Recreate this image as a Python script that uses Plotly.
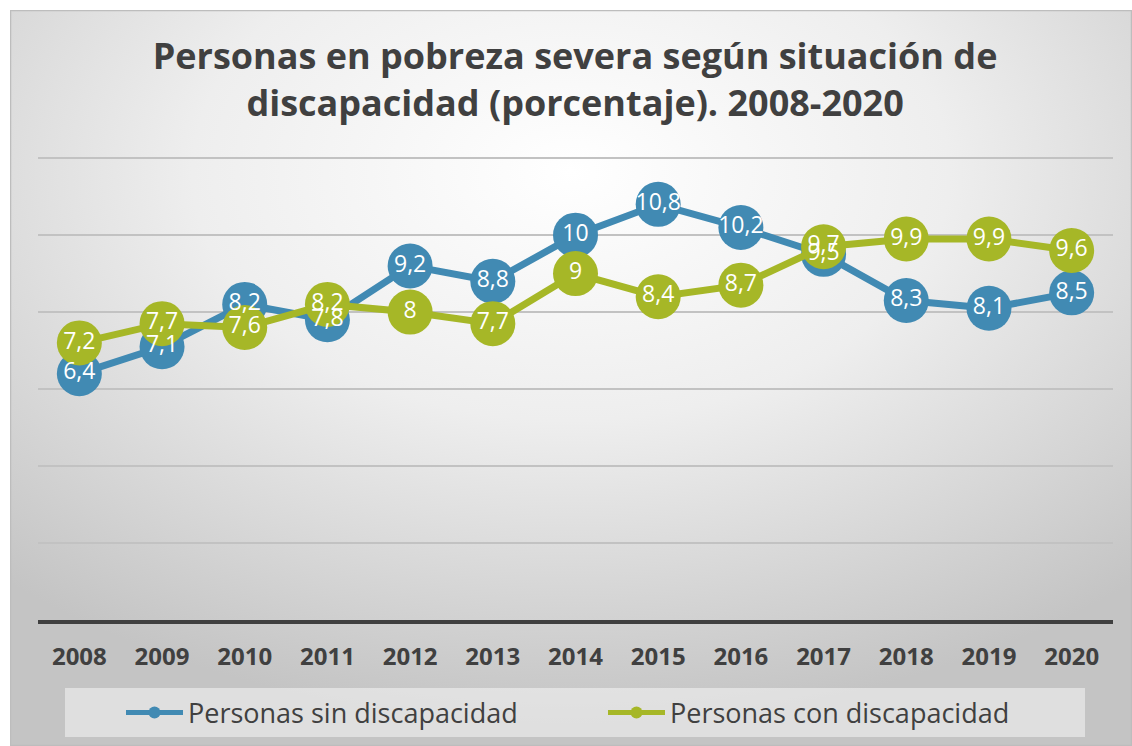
import base64
import plotly.graph_objects as go

years = ["2008", "2009", "2010", "2011", "2012", "2013", "2014",
         "2015", "2016", "2017", "2018", "2019", "2020"]
sin_disc = [6.4, 7.1, 8.2, 7.8, 9.2, 8.8, 10, 10.8, 10.2, 9.5, 8.3, 8.1, 8.5]
con_disc = [7.2, 7.7, 7.6, 8.2, 8, 7.7, 9, 8.4, 8.7, 9.7, 9.9, 9.9, 9.6]
names = ["Personas sin discapacidad", "Personas con discapacidad"]
colors = ["#418AB3", "#A6B727"]

def fmt(v):
    return ("%g" % v).replace(".", ",")

# figure geometry (pixels)
W, H = 1132, 746
ML, MR, MT, MB = 38, 19, 157, 126
PW, PH = W - ML - MR, H - MT - MB

def px_x(p):
    return (p - ML) / PW

def px_y(p):
    return (H - MB - p) / PH

svg = ('<svg xmlns="http://www.w3.org/2000/svg" width="1122" height="736" preserveAspectRatio="none">'
       '<defs><radialGradient id="g" cx="50%" cy="22%" r="75%" fx="50%" fy="22%">'
       '<stop offset="0%" stop-color="#ffffff"/>'
       '<stop offset="45%" stop-color="#eeeeee"/>'
       '<stop offset="100%" stop-color="#c4c4c4"/>'
       '</radialGradient></defs>'
       '<rect x="0" y="0" width="1122" height="736" fill="url(#g)"/>'
       '<rect x="0.5" y="0.5" width="1121" height="735" fill="none" stroke="#bdbdbd" stroke-width="1.5"/>'
       '</svg>')
bg_src = "data:image/svg+xml;base64," + base64.b64encode(svg.encode()).decode()

fig = go.Figure()
series = [sin_disc, con_disc]
for vals, name, col in zip(series, names, colors):
    fig.add_trace(go.Scatter(
        x=years, y=vals, name=name, mode="lines+markers",
        line=dict(color=col, width=7),
        marker=dict(color=col, size=45),
        hoverinfo="skip",
    ))
for vals, col in zip(series, colors):
    fig.add_trace(go.Scatter(
        x=years, y=vals, mode="text", showlegend=False,
        text=[fmt(v) for v in vals], textposition="middle center",
        textfont=dict(family="Open Sans", size=23, color="white"),
        hoverinfo="skip",
    ))

fig.update_layout(
    width=W, height=H,
    margin=dict(l=ML, r=MR, t=MT, b=MB, pad=0, autoexpand=False),
    paper_bgcolor="white", plot_bgcolor="rgba(0,0,0,0)",
    title=dict(
        text="Personas en pobreza severa según situación de<br>discapacidad (porcentaje). 2008-2020",
        x=0.508, xanchor="center", y=1 - 69 / H, yanchor="middle",
        font=dict(family="Open Sans", size=36, color="#404040", weight="bold"),
    ),
    xaxis=dict(
        type="category", showgrid=False, showline=True, linecolor="#404040", linewidth=4,
        ticks="outside", ticklen=12, tickcolor="rgba(0,0,0,0)",
        tickfont=dict(family="Open Sans", size=24, color="#404040", weight="bold"),
        range=[-0.5, 12.5], fixedrange=True, automargin=False,
    ),
    yaxis=dict(
        range=[0, 12.03], dtick=2, showticklabels=False, showgrid=True,
        gridcolor="#c2c2c2", gridwidth=1.5, zeroline=False, fixedrange=True,
        automargin=False,
    ),
    showlegend=True,
    legend=dict(
        orientation="h", x=px_x(121), xanchor="left", y=px_y(713), yanchor="middle",
        bgcolor="rgba(0,0,0,0)", itemsizing="constant", itemwidth=57,
        font=dict(family="Open Sans", size=27, color="#404040"),
        entrywidth=410, entrywidthmode="pixels", tracegroupgap=0,
    ),
    images=[dict(
        source=bg_src, xref="paper", yref="paper",
        x=px_x(10), y=px_y(10), sizex=1122 / PW, sizey=736 / PH,
        xanchor="left", yanchor="top", sizing="stretch", layer="below",
    )],
    shapes=[dict(
        type="rect", xref="paper", yref="paper",
        x0=px_x(65), x1=px_x(1085), y0=px_y(737), y1=px_y(688),
        fillcolor="rgba(245,245,245,0.55)", line=dict(width=0), layer="below",
    )],
)

fig.write_html("out.html")
